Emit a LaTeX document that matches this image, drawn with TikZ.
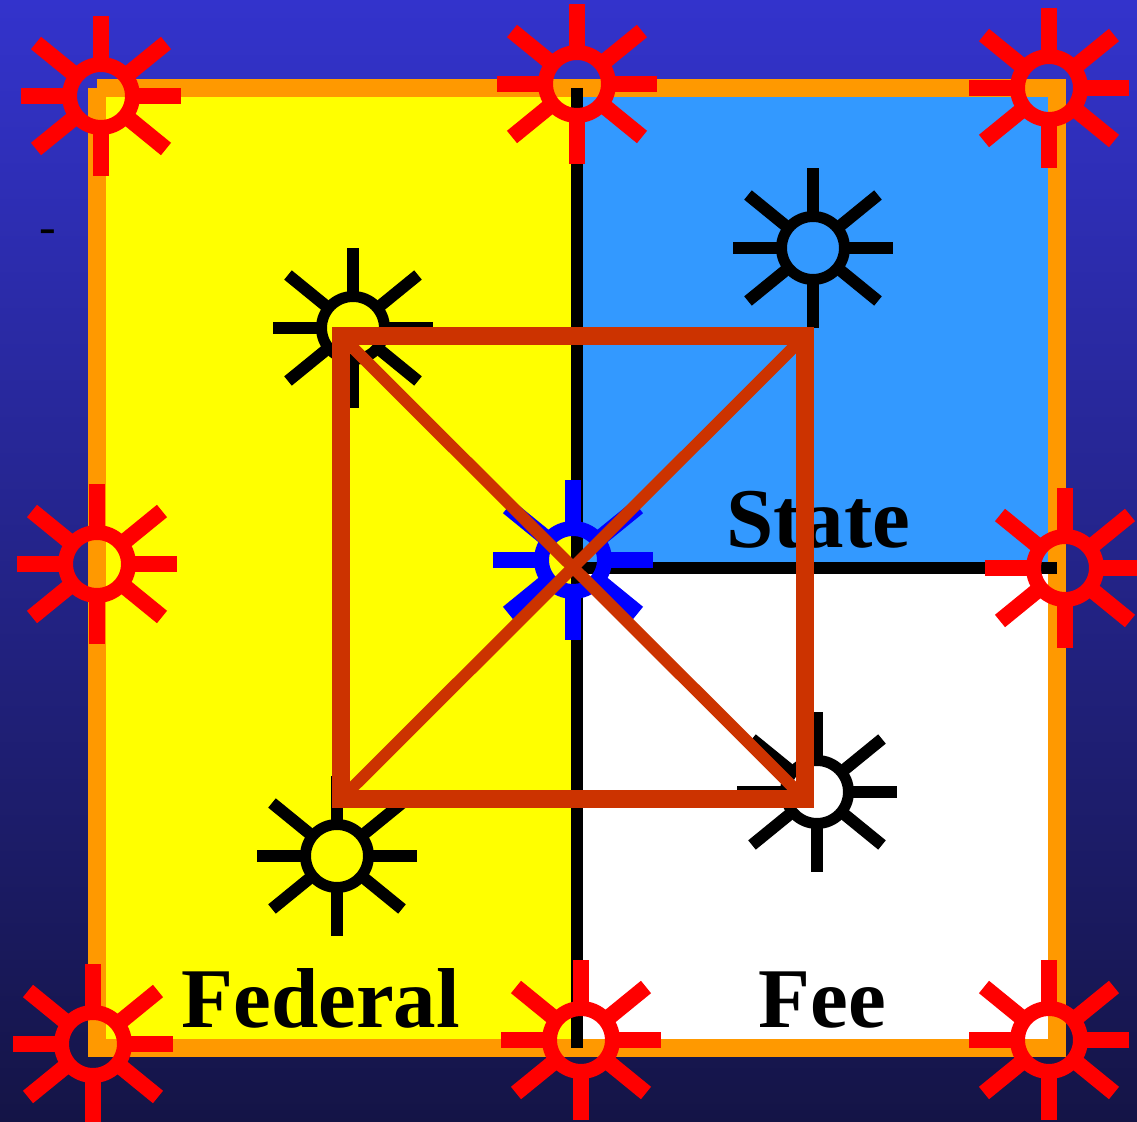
\documentclass[tikz,border=0pt]{standalone}
\usepackage{fontspec}
\setmainfont{Liberation Serif}
\definecolor{bgtop}{RGB}{51,51,204}
\definecolor{bgbot}{RGB}{20,20,70}
\definecolor{framec}{RGB}{255,153,0}
\definecolor{statec}{RGB}{51,153,255}
\definecolor{squarec}{RGB}{204,51,0}
\definecolor{fedc}{RGB}{255,255,0}
\definecolor{sunred}{RGB}{255,0,0}
\definecolor{sunblue}{RGB}{0,0,255}
\tikzset{
  px/.style={line width=#1*0.5pt},
  regionline/.style={black,px=12,line cap=butt},
  label/.style={font=\fontsize{42.5pt}{42.5pt}\selectfont\bfseries,anchor=base west,inner sep=0pt,black},
  pics/sun/.style n args={3}{code={
    \draw[#1,px=#2] (0,0) circle[radius=31.5];
    \foreach \a/\b in {0/-80,0/80,80/0,-80/0,65/53,65/-53,-65/53,-65/-53}{
      \draw[#1,px=#3,line cap=butt] (0.39*\a,0.39*\b) -- (\a,\b);
    }
  }}
}
\begin{document}
\begin{tikzpicture}[x=0.5pt,y=-0.5pt]
\useasboundingbox (0,0) rectangle (1137,1122);
\shade[top color=bgtop,bottom color=bgbot] (0,0) rectangle (1137,1122);
% regions
\fill[fedc] (97,88) rectangle (577,1048);
\fill[statec] (577,88) rectangle (1057,568);
\fill[white] (577,568) rectangle (1057,1048);
\draw[framec,px=18,line cap=butt,miter limit=10] (97,88) -- (1057,88) -- (1057,1048) -- (97,1048) -- (97,88);
\draw[regionline] (577,88) -- (577,1048);
\draw[regionline] (577,568) -- (1057,568);
% labels
\node[label] (state) at (726,548) {State};
\node[label] (fee) at (758,1028) {Fee};
\node[label] (federal) at (181,1028) {Federal};
\node[font=\fontsize{25pt}{25pt}\selectfont,inner sep=0pt] (dash) at (48,237) {-};
% black suns
\pic at (353,328) {sun={black}{11}{12}};
\pic at (813,248) {sun={black}{11}{12}};
\pic at (817,792) {sun={black}{11}{12}};
\pic at (337,856) {sun={black}{11}{12}};
% blue sun
\pic at (573,560) {sun={sunblue}{15}{16}};
% red suns
\pic at (101,96) {sun={sunred}{15}{16}};
\pic at (577,84) {sun={sunred}{15}{16}};
\pic at (1049,88) {sun={sunred}{15}{16}};
\pic at (97,564) {sun={sunred}{15}{16}};
\pic at (1065,568) {sun={sunred}{15}{16}};
\pic at (93,1044) {sun={sunred}{15}{16}};
\pic at (581,1040) {sun={sunred}{15}{16}};
\pic at (1049,1040) {sun={sunred}{15}{16}};
% square
\draw[squarec,px=18] (341,336) rectangle (805,799);
\draw[squarec,px=12,line cap=butt] (350,345) -- (805,799);
\draw[squarec,px=12,line cap=butt] (350,790) -- (805,336);
\end{tikzpicture}
\end{document}
